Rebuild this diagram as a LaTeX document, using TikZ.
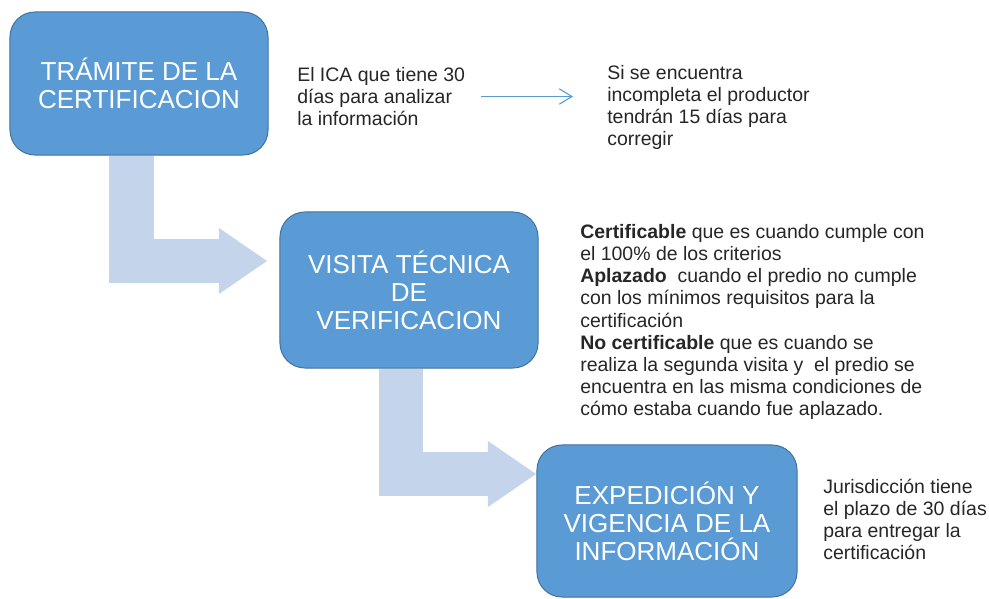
\documentclass[tikz,border=0pt]{standalone}
\usepackage{fontspec}
\setmainfont{Liberation Sans}
\usetikzlibrary{calc,arrows.meta}
\definecolor{pasoazul}{RGB}{91,155,213}
\definecolor{pasoborde}{RGB}{65,113,156}
\definecolor{flechaclara}{RGB}{196,213,235}

\begin{document}
\begin{tikzpicture}[x=0.025cm,y=-0.025cm]
\tikzstyle{paso}=[draw=pasoborde,fill=pasoazul,line width=0.7pt,rounded corners=0.625cm,text=white,align=center,inner sep=0pt,font=\fontsize{18.5}{20}\selectfont]
\tikzstyle{nota}=[anchor=west,align=left,inner sep=0pt,text=black!85,font=\fontsize{13.85}{15.8}\selectfont]
\tikzstyle{codo}=[draw=flechaclara,line width=1.1cm,line join=miter,-{Triangle[width=1.65cm,length=1.2cm,line width=0pt]}]
\tikzstyle{flecha}=[draw=pasoazul,line width=0.8pt,-{Straight Barb[length=9pt,width=11pt]}]
\useasboundingbox (0,0) rectangle (989,599);

\node[paso,minimum width=6.45cm,minimum height=3.575cm] (tramite) at (139,83.5) {TRÁMITE DE LA\\CERTIFICACION};
\node[paso,minimum width=6.45cm,minimum height=3.9cm] (visita) at (409,290) {VISITA TÉCNICA\\DE\\VERIFICACION};
\node[paso,minimum width=6.5cm,minimum height=3.8cm] (expedicion) at (667,521) {EXPEDICIÓN Y\\VIGENCIA DE LA\\INFORMACIÓN};

\node[nota] (ica) at (297,96.5) {El ICA que tiene 30\\días para analizar\\la información};
\node[nota] (incompleta) at (607,107.5) {Si se encuentra\\incompleta el productor\\tendrán 15 días para\\corregir};
\node[nota] (criterios) at (580,322) {\textbf{Certificable} que es cuando cumple con\\el 100\% de los criterios\\\textbf{Aplazado}\ \ cuando el predio no cumple\\con los mínimos requisitos para la\\certificación\\\textbf{No certificable} que es cuando se\\realiza la segunda visita y\ \ el predio se\\encuentra en las misma condiciones de\\cómo estaba cuando fue aplazado.};
\node[nota] (plazo) at (823,519.5) {Jurisdicción tiene\\el plazo de 30 días\\para entregar la\\certificación};

% flechas entre pasos
\coordinate (punta1) at (267,261);
\coordinate (punta2) at (536,474);
\draw[codo] ($(tramite.south)+(-7.5,0.5)$) |- (punta1);
\draw[codo] ($(visita.south)+(-8,0.5)$) |- (punta2);

\draw[flecha,shorten <=0.4cm,shorten >=0.85cm] (ica.east) -- (ica.east -| incompleta.west);
\end{tikzpicture}
\end{document}
